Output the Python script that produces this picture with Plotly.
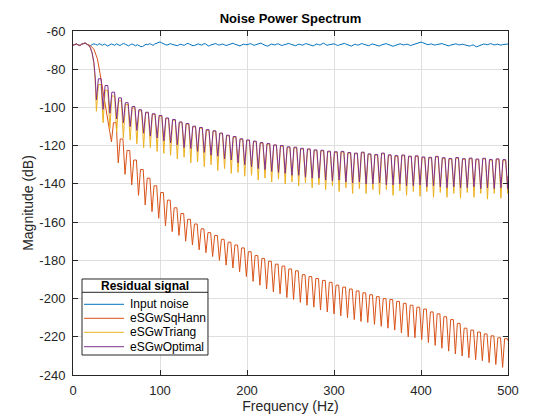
import plotly.graph_objects as go

# ---------------- data ----------------
noise_f = list(range(0, 501, 2))
noise_db = [
    -67.4, -67.0, -66.8, -67.3, -67.6, -66.9, -66.5, -66.3, -66.9, -67.2,
    -67.8, -67.1, -66.7, -67.0, -67.4, -66.6, -67.1, -67.5, -66.8, -67.2,
    -67.9, -67.3, -66.8, -67.1, -67.5, -66.7, -67.2, -67.6, -67.0, -66.5,
    -66.9, -67.4, -67.8, -67.1, -66.8, -67.3, -67.7, -67.2, -67.6, -68.2,
    -68.1, -67.3, -66.9, -67.2, -66.6, -67.0, -67.5, -66.8, -66.3, -66.0,
    -65.7, -66.2, -66.8, -67.1, -67.4, -66.9, -66.6, -67.0, -67.3, -67.6,
    -67.7, -67.2, -66.9, -67.3, -67.5, -66.8, -66.5, -66.9, -67.2, -67.7,
    -67.5, -66.9, -66.7, -67.1, -67.4, -66.8, -66.6, -67.3, -67.9, -67.4,
    -67.1, -66.8, -66.6, -67.0, -67.4, -67.1, -66.8, -67.2, -67.6, -67.3,
    -67.0, -66.7, -66.4, -66.9, -67.3, -67.6, -67.8, -67.3, -66.9, -67.1,
    -67.2, -66.9, -66.6, -67.0, -67.5, -67.2, -66.9, -66.5, -66.3, -66.9,
    -67.4, -67.7, -67.9, -67.3, -66.8, -67.1, -67.3, -66.9, -66.7, -67.2,
    -67.6, -67.3, -67.0, -66.7, -66.5, -66.9, -67.2, -67.5, -67.7, -67.2,
    -66.9, -67.2, -67.4, -66.9, -66.6, -66.9, -67.2, -67.5, -67.8, -67.3,
    -66.8, -67.1, -67.3, -66.8, -66.4, -66.9, -67.5, -67.2, -67.0, -66.8,
    -66.7, -67.1, -67.6, -67.3, -67.1, -66.8, -66.5, -66.9, -67.3, -67.6,
    -67.9, -67.4, -66.9, -67.2, -67.4, -66.9, -66.6, -66.9, -67.2, -67.5,
    -67.7, -67.2, -66.8, -67.0, -67.3, -67.6, -67.9, -67.4, -67.1, -66.8,
    -66.6, -67.0, -67.4, -67.7, -68.0, -67.6, -67.2, -66.9, -66.7, -67.0,
    -67.3, -67.1, -66.9, -67.2, -67.6, -67.3, -67.0, -66.7, -66.4, -66.1,
    -65.8, -66.1, -66.5, -66.9, -67.2, -66.9, -66.8, -67.1, -67.4, -67.1,
    -67.0, -66.8, -66.6, -66.9, -67.3, -67.6, -67.8, -67.4, -67.1, -66.9,
    -66.7, -67.0, -67.3, -67.1, -66.9, -67.2, -67.5, -67.7, -67.9, -67.5,
    -67.3, -67.8, -68.3, -67.9, -67.4, -67.1, -66.8, -67.0, -67.2, -66.9,
    -66.6, -66.9, -67.3, -67.1, -66.9, -67.2, -67.4, -67.1, -67.0, -66.9,
    -66.8,
]

# low-frequency (pass-band) parts of the filtered curves
opt_head_f = [0, 2, 4, 6, 8, 10, 12, 14, 16, 18, 20, 22, 24, 25.5]
opt_head_db = [-67.4, -67.0, -66.8, -67.3, -67.6, -66.9, -66.5, -66.3, -66.9,
               -67.6, -68.8, -71.5, -76.5, -84.0]
tri_head_f = [0, 2, 4, 6, 8, 10, 12, 14, 16, 18, 20, 22, 24, 25.5]
tri_head_db = [-67.4, -67.0, -66.8, -67.3, -67.6, -66.9, -66.5, -66.3, -66.9,
               -67.6, -68.8, -71.5, -77.0, -86.0]
hann_head_f = [0, 2, 4, 6, 8, 10, 12, 14, 16, 18, 20, 24, 28, 31, 34, 37, 40]
hann_head_db = [-67.4, -67.0, -66.8, -67.3, -67.6, -66.9, -66.5, -66.3, -66.9,
                -67.2, -67.7, -69.5, -74.5, -82.0, -90.0, -98.5, -105.0]

# lobe grid shared by eSGwTriang / eSGwOptimal (nulls and lobe tops)
lobe_null_f = [
    26.9, 34.6, 42.4, 50.2, 57.9, 65.7, 73.4, 81.2, 88.9, 96.7,
    104.4, 112.2, 119.9, 127.7, 135.4, 143.2, 150.9, 158.7, 166.4, 174.2,
    181.9, 189.7, 197.4, 205.2, 212.9, 220.7, 228.4, 236.2, 243.9, 251.7,
    259.4, 267.2, 274.9, 282.7, 290.4, 298.2, 305.9, 313.7, 321.4, 329.2,
    336.9, 344.7, 352.4, 360.2, 367.9, 375.7, 383.4, 391.2, 398.9, 406.7,
    414.4, 422.2, 429.9, 437.7, 445.4, 453.2, 460.9, 468.7, 476.4, 484.2,
    491.9, 499.7,
]
lobe_top_l_f = [
    29.2, 36.9, 44.7, 52.5, 60.2, 68.0, 75.7, 83.5, 91.2, 99.0,
    106.7, 114.5, 122.2, 130.0, 137.7, 145.5, 153.2, 161.0, 168.7, 176.5,
    184.2, 192.0, 199.7, 207.5, 215.2, 223.0, 230.7, 238.5, 246.2, 254.0,
    261.7, 269.5, 277.2, 285.0, 292.7, 300.5, 308.2, 316.0, 323.7, 331.5,
    339.2, 347.0, 354.7, 362.5, 370.2, 378.0, 385.7, 393.5, 401.2, 409.0,
    416.7, 424.5, 432.2, 440.0, 447.7, 455.5, 463.2, 471.0, 478.7, 486.5,
    494.2,
]
lobe_top_r_f = [
    32.3, 40.0, 47.8, 55.6, 63.3, 71.1, 78.8, 86.6, 94.3, 102.1,
    109.8, 117.6, 125.3, 133.1, 140.8, 148.6, 156.3, 164.1, 171.8, 179.6,
    187.3, 195.1, 202.8, 210.6, 218.3, 226.1, 233.8, 241.6, 249.3, 257.1,
    264.8, 272.6, 280.3, 288.1, 295.8, 303.6, 311.3, 319.1, 326.8, 334.6,
    342.3, 350.1, 357.8, 365.6, 373.3, 381.1, 388.8, 396.6, 404.3, 412.1,
    419.8, 427.6, 435.3, 443.1, 450.8, 458.6, 466.3, 474.1, 481.8, 489.6,
    497.3,
]
opt_peak_db = [
    -85.0, -88.5, -92.0, -95.0, -97.5, -99.5, -101.2, -102.5, -103.3, -104.2,
    -105.5, -106.3, -107.6, -108.4, -109.8, -110.5, -111.6, -112.2, -113.4, -114.5,
    -115.2, -116.4, -117.0, -117.6, -118.4, -118.9, -119.6, -119.9, -120.6, -120.8,
    -121.4, -121.7, -122.2, -122.4, -122.9, -123.2, -123.0, -123.6, -123.9, -123.4,
    -124.3, -124.6, -123.9, -124.8, -125.2, -124.9, -125.5, -125.3, -125.9, -126.1,
    -125.6, -126.3, -126.7, -126.2, -126.8, -126.5, -127.0, -126.6, -127.2, -126.9,
    -127.3,
]
opt_null_db = [
    -96.0, -101.0, -103.0, -106.0, -108.0, -110.0, -112.0, -113.5, -115.0, -116.0,
    -117.5, -118.5, -119.5, -121.0, -121.5, -123.0, -123.5, -125.0, -125.5, -127.0,
    -127.5, -129.0, -130.0, -131.0, -132.0, -132.5, -133.5, -134.0, -134.5, -135.5,
    -135.5, -136.5, -137.0, -137.0, -138.0, -138.5, -138.0, -139.0, -139.5, -139.0,
    -140.0, -140.0, -139.5, -140.5, -140.5, -140.0, -141.0, -141.0, -140.5, -141.5,
    -141.0, -141.5, -142.0, -141.5, -142.0, -142.0, -141.5, -142.5, -142.0, -142.5,
    -142.0, -142.5,
]
opt_end_db = -136.0

tri_peak_db = [
    -88.0, -91.0, -94.0, -96.5, -98.5, -100.3, -101.8, -102.9, -103.7, -104.6,
    -105.9, -106.7, -108.0, -108.8, -110.2, -110.9, -112.0, -112.6, -113.8, -114.9,
    -115.6, -116.8, -117.4, -118.0, -118.8, -119.3, -120.0, -120.3, -121.0, -121.2,
    -121.8, -122.1, -122.6, -122.8, -123.3, -123.6, -123.4, -124.0, -124.3, -123.8,
    -124.7, -125.0, -124.3, -125.2, -125.6, -125.3, -125.9, -125.7, -126.3, -126.5,
    -126.0, -126.7, -127.1, -126.6, -127.2, -126.9, -127.4, -127.0, -127.6, -127.3,
    -127.7,
]
tri_null_db = [
    -102.0, -108.0, -111.0, -113.0, -116.0, -117.0, -119.0, -121.0, -121.0, -123.0,
    -124.0, -125.0, -127.0, -126.0, -129.0, -128.5, -131.0, -130.0, -133.0, -132.0,
    -134.5, -134.0, -136.0, -135.5, -138.0, -137.0, -139.0, -137.5, -140.0, -139.0,
    -141.0, -139.5, -142.0, -140.5, -143.0, -141.0, -144.0, -142.0, -145.0, -142.5,
    -145.0, -143.0, -145.5, -143.0, -146.0, -143.5, -146.0, -144.0, -146.5, -144.0,
    -147.0, -144.5, -147.0, -145.0, -147.5, -144.5, -147.0, -145.0, -148.0, -145.0,
    -147.5, -145.0,
]
tri_end_db = -137.0

# eSGwSqHann lobes
hann_null_f = [
    44.2, 52.0, 59.8, 67.5, 75.3, 83.0, 90.8, 98.5, 106.3, 114.0,
    121.8, 129.5, 137.3, 145.0, 152.8, 160.5, 168.3, 176.0, 183.8, 191.5,
    199.3, 207.0, 214.8, 222.5, 230.3, 238.0, 245.8, 253.5, 261.3, 269.0,
    276.8, 284.5, 292.3, 300.0, 307.8, 315.5, 323.3, 331.0, 338.8, 346.5,
    354.3, 362.0, 369.8, 377.5, 385.3, 393.0, 400.8, 408.5, 416.3, 424.0,
    431.8, 439.5, 447.3, 455.0, 462.8, 470.5, 478.3, 486.0, 493.8,
]
hann_top_l_f = [
    46.5, 54.3, 62.1, 69.8, 77.6, 85.3, 93.1, 100.8, 108.6, 116.3,
    124.1, 131.8, 139.6, 147.3, 155.1, 162.8, 170.6, 178.3, 186.1, 193.8,
    201.6, 209.3, 217.1, 224.8, 232.6, 240.3, 248.1, 255.8, 263.6, 271.3,
    279.1, 286.8, 294.6, 302.3, 310.1, 317.8, 325.6, 333.3, 341.1, 348.8,
    356.6, 364.3, 372.1, 379.8, 387.6, 395.3, 403.1, 410.8, 418.6, 426.3,
    434.1, 441.8, 449.6, 457.3, 465.1, 472.8, 480.6, 488.3, 496.1,
]
hann_top_r_f = [
    49.6, 57.4, 65.2, 72.9, 80.7, 88.4, 96.2, 103.9, 111.7, 119.4,
    127.2, 134.9, 142.7, 150.4, 158.2, 165.9, 173.7, 181.4, 189.2, 196.9,
    204.7, 212.4, 220.2, 227.9, 235.7, 243.4, 251.2, 258.9, 266.7, 274.4,
    282.2, 289.9, 297.7, 305.4, 313.2, 320.9, 328.7, 336.4, 344.2, 351.9,
    359.7, 367.4, 375.2, 382.9, 390.7, 398.4, 406.2, 413.9, 421.7, 429.4,
    437.2, 444.9, 452.7, 460.4, 468.2, 475.9, 483.7, 491.4, 499.2,
]
hann_peak_db = [
    -108.0, -116.5, -122.5, -127.5, -132.5, -137.0, -141.0, -144.5, -148.5, -152.5,
    -155.5, -158.5, -161.0, -163.5, -165.5, -167.0, -169.0, -170.5, -172.0, -173.5,
    -175.5, -177.5, -179.0, -180.5, -182.0, -183.0, -184.5, -185.5, -187.5, -188.5,
    -189.5, -190.5, -191.5, -193.0, -194.0, -195.0, -196.0, -197.0, -198.0, -199.0,
    -200.0, -200.5, -201.5, -202.5, -203.5, -204.5, -205.5, -207.0, -208.0, -209.5,
    -211.0, -213.0, -215.5, -216.5, -217.5, -218.5, -219.5, -220.5, -221.0,
]
hann_null_db = [
    -118.0, -129.0, -135.0, -140.5, -146.0, -151.0, -154.5, -158.0, -162.0, -165.0,
    -167.0, -170.0, -172.0, -174.5, -176.0, -178.0, -180.0, -182.5, -184.0, -186.0,
    -188.5, -191.0, -193.0, -195.0, -196.5, -197.5, -199.5, -200.5, -202.0, -203.5,
    -204.5, -206.0, -207.0, -208.0, -209.0, -210.0, -211.0, -212.0, -212.5, -213.5,
    -214.5, -215.5, -216.5, -218.0, -220.0, -220.5, -221.5, -223.0, -224.5, -226.0,
    -227.5, -229.0, -230.0, -231.0, -232.0, -232.5, -233.5, -234.5, -236.0,
]
hann_end_db = -222.0

end_f = 500

series_names = ["Input noise", "eSGwSqHann", "eSGwTriang", "eSGwOptimal"]
series_colors = ["#0072BD", "#D95319", "#EDB120", "#7E2F8E"]
legend_title = "Residual signal"
x_ticks = [0, 100, 200, 300, 400, 500]
x_tick_labels = ["0", "100", "200", "300", "400", "500"]
y_ticks = [-240, -220, -200, -180, -160, -140, -120, -100, -80, -60]
y_tick_labels = ["-240", "-220", "-200", "-180", "-160", "-140", "-120",
                 "-100", "-80", "-60"]


def build(head_f, head_db, null_f, null_db, top_l_f, top_r_f, peak_db, end_db):
    xs = list(head_f)
    ys = list(head_db)
    for i in range(len(null_f)):
        xs.append(null_f[i])
        ys.append(null_db[i])
        if i < len(peak_db):
            xs += [top_l_f[i], top_r_f[i]]
            ys += [peak_db[i], peak_db[i]]
    xs.append(end_f)
    ys.append(end_db)
    return xs, ys


hann_x, hann_y = build(hann_head_f, hann_head_db, hann_null_f, hann_null_db,
                       hann_top_l_f, hann_top_r_f, hann_peak_db, hann_end_db)
tri_x, tri_y = build(tri_head_f, tri_head_db, lobe_null_f, tri_null_db,
                     lobe_top_l_f, lobe_top_r_f, tri_peak_db, tri_end_db)
opt_x, opt_y = build(opt_head_f, opt_head_db, lobe_null_f, opt_null_db,
                     lobe_top_l_f, lobe_top_r_f, opt_peak_db, opt_end_db)

FONT = "Liberation Sans, Arial, sans-serif"
AX = "#262626"

fig = go.Figure()
for xs, ys, name, col in [
    (noise_f, noise_db, series_names[0], series_colors[0]),
    (hann_x, hann_y, series_names[1], series_colors[1]),
    (tri_x, tri_y, series_names[2], series_colors[2]),
    (opt_x, opt_y, series_names[3], series_colors[3]),
]:
    fig.add_trace(go.Scatter(x=xs, y=ys, mode="lines", name=name,
                             line=dict(color=col, width=1), showlegend=False))

axis_common = dict(
    showline=True, linecolor=AX, linewidth=1, mirror="ticks",
    ticks="inside", ticklen=5, tickcolor=AX, tickwidth=1,
    showgrid=True, gridcolor="#dfdfdf", gridwidth=1, zeroline=False,
    tickfont=dict(family=FONT, size=13, color=AX), automargin=False,
)

# ---- MATLAB-style legend box (lower left, inside axes) ----
box_x0, box_x1, box_y0, box_y1 = 0.0207, 0.3103, 0.0581, 0.2791
sep_y = 0.2404
item_y = [0.2055, 0.1648, 0.1241, 0.0823]
shapes = [
    dict(type="rect", xref="paper", yref="paper", x0=box_x0, x1=box_x1,
         y0=box_y0, y1=box_y1, line=dict(color=AX, width=1),
         fillcolor="white", layer="above"),
    dict(type="line", xref="paper", yref="paper", x0=box_x0, x1=box_x1,
         y0=sep_y, y1=sep_y, line=dict(color=AX, width=1), layer="above"),
]
annotations = [
    dict(text="<b>" + legend_title + "</b>", xref="paper", yref="paper",
         x=(box_x0 + box_x1) / 2, y=(sep_y + box_y1) / 2, showarrow=False,
         xanchor="center", yanchor="middle",
         font=dict(family=FONT, size=12, color="black")),
]
for name, col, yy in zip(series_names, series_colors, item_y):
    shapes.append(dict(type="line", xref="paper", yref="paper", x0=0.0253,
                       x1=0.1172, y0=yy, y1=yy, line=dict(color=col, width=1),
                       layer="above"))
    annotations.append(dict(text=name, xref="paper", yref="paper", x=0.1264,
                            y=yy, showarrow=False, xanchor="left",
                            yanchor="middle",
                            font=dict(family=FONT, size=12, color="black")))

fig.update_layout(
    width=560, height=420,
    margin=dict(l=73, r=52, t=31, b=45),
    paper_bgcolor="white", plot_bgcolor="white",
    font=dict(family=FONT, size=13, color=AX),
    title=dict(text="<b>Noise Power Spectrum</b>", x=0.5, xref="paper",
               xanchor="center", y=0.955, yanchor="middle",
               font=dict(family=FONT, size=13, color="black")),
    xaxis=dict(range=[0, 500], tickvals=x_ticks, ticktext=x_tick_labels,
               ticklabelstandoff=3,
               title=dict(text="Frequency (Hz)", standoff=0,
                          font=dict(family=FONT, size=14, color=AX)),
               **axis_common),
    yaxis=dict(range=[-240, -60], tickvals=y_ticks, ticktext=y_tick_labels,
               ticklabelstandoff=4,
               title=dict(text="Magnitude (dB)", standoff=2,
                          font=dict(family=FONT, size=14, color=AX)),
               **axis_common),
    shapes=shapes,
    annotations=annotations,
    showlegend=False,
)

fig.write_html("out.html",
               config={"displayModeBar": False},
               post_script="document.body.style.margin='0';"
                           "document.body.style.padding='0';")
